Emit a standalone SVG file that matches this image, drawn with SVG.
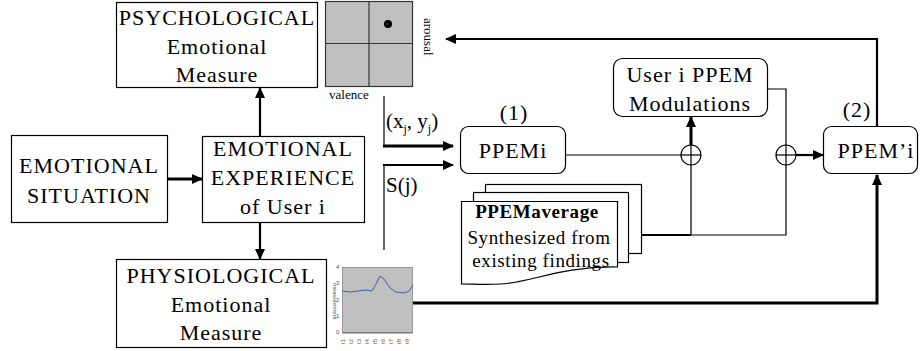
<svg xmlns="http://www.w3.org/2000/svg" width="923" height="351" viewBox="0 0 923 351">
<style>
.box{fill:#fff;stroke:#000;stroke-width:1.2}
.t{font-family:"Liberation Serif","Times New Roman",serif;font-size:22px;fill:#000;text-anchor:middle;letter-spacing:1px}
.s{font-family:"Liberation Serif","Times New Roman",serif;font-size:19px;fill:#000;text-anchor:middle;letter-spacing:0.6px}
.c{fill:none;stroke:#000}
.thin{stroke-width:1.2}
.w2{stroke-width:2.2}
.w3{stroke-width:3}
.tiny{font-family:"Liberation Sans",Arial,sans-serif;font-size:6px;fill:#555}
</style>
<defs>
<marker id="ah" markerUnits="userSpaceOnUse" markerWidth="11" markerHeight="10" refX="10" refY="5" orient="auto">
<path d="M0,0 L11,5 L0,10 z" fill="#000"/>
</marker>
</defs>
<rect width="923" height="351" fill="#fff"/>

<g id="psychological">
<rect class="box" x="116.5" y="2.5" width="201" height="85"/>
<text class="t" x="217" y="25">PSYCHOLOGICAL</text>
<text class="t" x="217" y="54">Emotional</text>
<text class="t" x="217" y="82">Measure</text>
</g>

<g id="valence-grid">
<rect x="325.5" y="1.5" width="87" height="85" fill="#c0c0c0" stroke="#333" stroke-width="1.2"/>
<line x1="369" y1="1.5" x2="369" y2="86.5" stroke="#333" stroke-width="1.2"/>
<line x1="325.5" y1="43.5" x2="412.5" y2="43.5" stroke="#333" stroke-width="1.2"/>
<circle cx="388" cy="24" r="4" fill="#000"/>
<circle cx="387" cy="24" r="0.8" fill="#2a8"/>
<text x="329" y="99" font-family="Liberation Serif,serif" font-size="13" fill="#000">valence</text>
<text transform="translate(424,18) rotate(90)" font-family="Liberation Serif,serif" font-size="13" fill="#000">arousal</text>
</g>

<g id="situation">
<rect class="box" x="11.5" y="135.5" width="156" height="87"/>
<text class="t" x="89" y="173">EMOTIONAL</text>
<text class="t" x="89" y="203">SITUATION</text>
</g>

<g id="experience">
<rect class="box" x="202.5" y="136.5" width="162" height="86"/>
<text class="t" x="283" y="156">EMOTIONAL</text>
<text class="t" x="283" y="185">EXPERIENCE</text>
<text class="t" x="283" y="214">of User i</text>
</g>

<g id="physiological">
<rect class="box" x="116.5" y="259.5" width="210" height="88"/>
<text class="t" x="221" y="283">PHYSIOLOGICAL</text>
<text class="t" x="221" y="312">Emotional</text>
<text class="t" x="221" y="340">Measure</text>
</g>

<g id="chart">
<rect x="342.5" y="267.5" width="70" height="65" fill="#c0c0c0" stroke="#888" stroke-width="0.8"/>
<polyline fill="none" stroke="#4a5aa8" stroke-width="1" points="342,291 350,292 358,291 366,290 372,291 376,284 380,276 384,279 390,288 396,292 404,293 409,291 413,285"/>
<text class="tiny" x="336" y="269">4</text>
<text class="tiny" x="336" y="285">3</text>
<text class="tiny" x="336" y="302">2</text>
<text class="tiny" x="336" y="318">1</text>
<text class="tiny" x="336" y="334">0</text>
<text class="tiny" transform="translate(333,283) rotate(90)" font-size="5">measurement</text>
<line x1="342" y1="333" x2="413" y2="333" stroke="#555" stroke-width="0.8"/>
<text class="tiny" transform="translate(345,344) rotate(-90)" font-size="5">t1</text>
<text class="tiny" transform="translate(353,344) rotate(-90)" font-size="5">t2</text>
<text class="tiny" transform="translate(361,344) rotate(-90)" font-size="5">t3</text>
<text class="tiny" transform="translate(369,344) rotate(-90)" font-size="5">t4</text>
<text class="tiny" transform="translate(377,344) rotate(-90)" font-size="5">t5</text>
<text class="tiny" transform="translate(385,344) rotate(-90)" font-size="5">t6</text>
<text class="tiny" transform="translate(393,344) rotate(-90)" font-size="5">t7</text>
<text class="tiny" transform="translate(401,344) rotate(-90)" font-size="5">t8</text>
<text class="tiny" transform="translate(409,344) rotate(-90)" font-size="5">t9</text>
</g>

<g id="ppemi">
<rect class="box" x="460.5" y="126.5" width="105" height="47" rx="8"/>
<text class="t" x="513" y="158">PPEMi</text>
<text class="t" x="514" y="120" letter-spacing="0">(1)</text>
</g>

<g id="ppem-average">
<rect class="box" x="485.5" y="184.5" width="156" height="69"/>
<rect class="box" x="473.5" y="192.5" width="155" height="70"/>
<path class="box" d="M461.5,201.5 H617.5 V267 C560,266 530,283 500,284 C485,285 472,284 461.5,284 Z"/>
<text class="s" x="537" y="218" font-weight="bold" letter-spacing="0">PPEMaverage</text>
<text class="s" x="539" y="244">Synthesized from</text>
<text class="s" x="541" y="267">existing findings</text>
</g>

<g id="modulations">
<rect class="box" x="613.5" y="58.5" width="154" height="58" rx="9"/>
<text class="t" x="690" y="82">User i PPEM</text>
<text class="t" x="690" y="111">Modulations</text>
</g>

<g id="ppem-prime">
<rect class="box" x="823.5" y="126.5" width="94" height="47" rx="8"/>
<text class="t" x="876" y="158">PPEM’i</text>
<text class="t" x="857" y="117" letter-spacing="0">(2)</text>
</g>

<g id="sum1">
<circle cx="691" cy="155" r="10" fill="#fff" stroke="#000" stroke-width="1.2"/>
<line x1="681" y1="155" x2="701" y2="155" stroke="#000" stroke-width="1.2"/>
<line x1="691" y1="145" x2="691" y2="165" stroke="#000" stroke-width="1.2"/>
</g>
<g id="sum2">
<circle cx="786" cy="155" r="10" fill="#fff" stroke="#000" stroke-width="1.2"/>
<line x1="776" y1="155" x2="796" y2="155" stroke="#000" stroke-width="1.2"/>
<line x1="786" y1="145" x2="786" y2="165" stroke="#000" stroke-width="1.2"/>
</g>

<g id="connectors">
<line class="c w3" x1="167" y1="179" x2="202" y2="179" marker-end="url(#ah)"/>
<line class="c w2" x1="260" y1="136" x2="260" y2="88" marker-end="url(#ah)"/>
<line class="c w2" x1="260" y1="223" x2="260" y2="259" marker-end="url(#ah)"/>
<polyline class="c thin" points="384,96 384,146"/>
<line class="c w3" x1="383" y1="146" x2="453" y2="146" marker-end="url(#ah)"/>
<polyline class="c thin" points="384,250 384,165"/>
<line class="c w2" x1="383" y1="165" x2="453" y2="165" marker-end="url(#ah)"/>
<line class="c thin" x1="565" y1="155" x2="681" y2="155"/>
<line class="c w3" x1="691" y1="145" x2="691" y2="117" marker-end="url(#ah)"/>
<line class="c w2" x1="642" y1="235" x2="691" y2="235"/>
<polyline class="c thin" points="691,165 691,235 786,235 786,165"/>
<polyline class="c thin" points="767,89 786,89 786,145"/>
<line class="c w2" x1="796" y1="155" x2="823" y2="155" marker-end="url(#ah)"/>
<polyline class="c w2" points="877,126 877,39 446,39" marker-end="url(#ah)"/>
<polyline class="c w3" points="413,303 877,303 877,175" marker-end="url(#ah)"/>
<text x="386" y="128" font-family="Liberation Serif,serif" font-size="21" fill="#000">(x<tspan font-size="12" dy="5">j</tspan><tspan dy="-5">, y</tspan><tspan font-size="12" dy="5">j</tspan><tspan dy="-5">)</tspan></text>
<text x="386" y="192" font-family="Liberation Serif,serif" font-size="21" fill="#000">S(j)</text>
</g>
</svg>
